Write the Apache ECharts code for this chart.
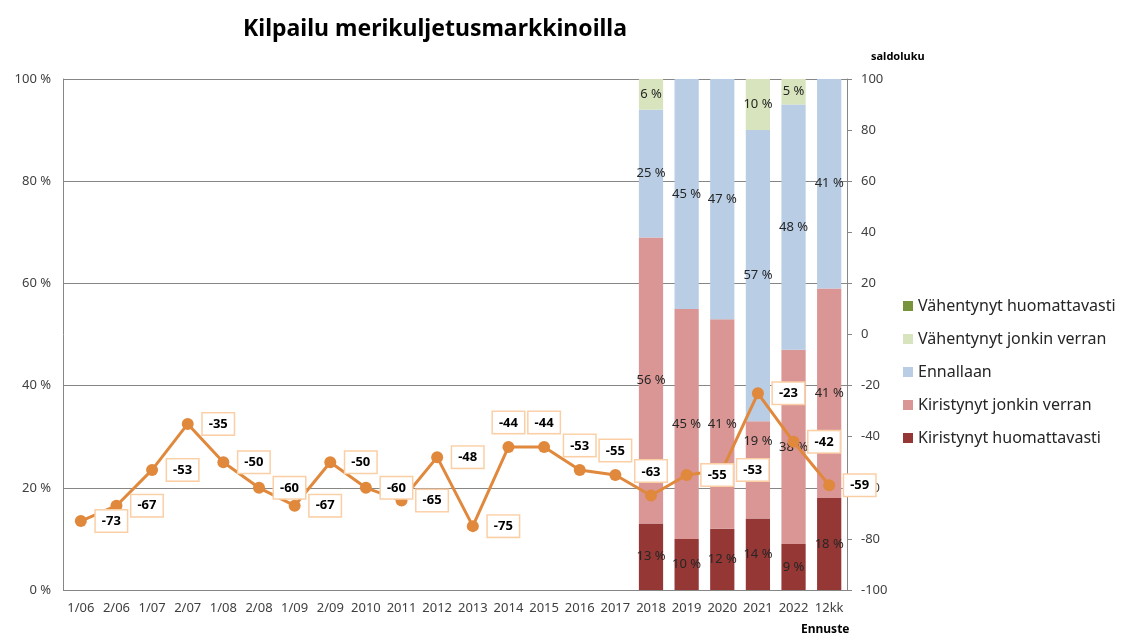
<!DOCTYPE html>
<html>
<head>
<meta charset="utf-8">
<script src="https://cdn.jsdelivr.net/npm/echarts@6/dist/echarts.min.js"></script>
<style>
  html, body { margin: 0; padding: 0; background: #fff; }
  #chart { width: 1124px; height: 639px; }
</style>
</head>
<body>
<div id="chart"></div>
<script>
// categories (half-years, years, forecast)
const categories = ["1/06", "2/06", "1/07", "2/07", "1/08", "2/08", "1/09", "2/09", "2010", "2011",
  "2012", "2013", "2014", "2015", "2016", "2017", "2018", "2019", "2020", "2021", "2022", "12kk"];

// saldoluku (right axis)
const saldo = [-73, -67, -53, -35, -50, -60, -67, -50, -60, -65, -48, -75, -44, -44, -53, -55,
  -63, -55, -53, -23, -42, -59];

// answer shares, % (only 2018 onwards)
const e = null;
const kirHuom = [e, e, e, e, e, e, e, e, e, e, e, e, e, e, e, e, 13, 10, 12, 14, 9, 18];
const kirJonk = [e, e, e, e, e, e, e, e, e, e, e, e, e, e, e, e, 56, 45, 41, 19, 38, 41];
const ennallaan = [e, e, e, e, e, e, e, e, e, e, e, e, e, e, e, e, 25, 45, 47, 57, 48, 41];
const vahJonk = [e, e, e, e, e, e, e, e, e, e, e, e, e, e, e, e, 6, 0, 0, 10, 5, 0];
const vahHuom = [e, e, e, e, e, e, e, e, e, e, e, e, e, e, e, e, 0, 0, 0, 0, 0, 0];

// line labels that sit above the point instead of to the right
const labelsOnTop = ["2014", "2015", "2016", "2017", "2018"];

const FONT = "Noto Sans";
const txt = "#404040";

const chart = echarts.init(document.getElementById("chart"));

function barSeries(name, data, color) {
  return {
    name: name,
    type: "bar",
    stack: "osuus",
    yAxisIndex: 0,
    barWidth: "68%",
    itemStyle: { color: color },
    label: {
      show: true,
      position: "inside",
      color: "#262626",
      fontFamily: FONT,
      fontSize: 13,
      formatter: p => (p.value ? p.value + " %" : "")
    },
    emphasis: { disabled: true },
    z: 6,
    data: data
  };
}

const lineData = saldo.map((v, i) =>
  labelsOnTop.indexOf(categories[i]) >= 0
    ? { value: v, label: { position: "top", distance: 8 } }
    : v
);

// 2021 label of the pink segment is lifted clear of the line label
const kirJonkData = kirJonk.map((v, i) =>
  categories[i] === "2021" ? { value: v, label: { offset: [0, -29] } } : v
);

chart.setOption({
  animation: false,
  textStyle: { fontFamily: FONT },
  title: {
    text: "Kilpailu merikuljetusmarkkinoilla",
    left: 430,
    textAlign: "center",
    top: 13,
    textStyle: { fontFamily: FONT, fontSize: 23, fontWeight: "bold", color: "#000" }
  },
  grid: { left: 63, right: 277, top: 79, bottom: 49 },
  legend: {
    orient: "vertical",
    left: 898,
    top: 293,
    itemWidth: 10,
    itemHeight: 10,
    itemGap: 17,
    icon: "rect",
    textStyle: { fontFamily: FONT, fontSize: 16, color: "#262626" },
    data: ["Vähentynyt huomattavasti", "Vähentynyt jonkin verran", "Ennallaan",
      "Kiristynyt jonkin verran", "Kiristynyt huomattavasti"]
  },
  xAxis: {
    type: "category",
    data: categories,
    axisLine: { show: false },
    axisTick: { show: false },
    axisLabel: { color: txt, fontFamily: FONT, fontSize: 13, margin: 12, interval: 0 }
  },
  yAxis: [
    {
      type: "value",
      min: 0,
      max: 100,
      interval: 20,
      position: "left",
      axisLine: { show: true, lineStyle: { color: "#868686" } },
      axisTick: { show: false },
      splitLine: { lineStyle: { color: "#868686", width: 1 } },
      axisLabel: { color: txt, fontFamily: FONT, fontSize: 13, margin: 12, formatter: "{value} %" }
    },
    {
      type: "value",
      min: -100,
      max: 100,
      interval: 20,
      position: "right",
      name: "saldoluku",
      nameLocation: "end",
      nameGap: 17,
      nameTextStyle: { color: "#000", fontFamily: FONT, fontSize: 11, fontWeight: "bold", align: "left", padding: [0, 0, 0, 24] },
      axisLine: { show: true, lineStyle: { color: "#868686" } },
      axisTick: { show: true, length: 5, lineStyle: { color: "#868686" } },
      splitLine: { show: false },
      axisLabel: { color: txt, fontFamily: FONT, fontSize: 13, margin: 14 }
    }
  ],
  series: [
    barSeries("Kiristynyt huomattavasti", kirHuom, "#953735"),
    barSeries("Kiristynyt jonkin verran", kirJonkData, "#d99694"),
    barSeries("Ennallaan", ennallaan, "#b9cde5"),
    barSeries("Vähentynyt jonkin verran", vahJonk, "#d7e4bd"),
    barSeries("Vähentynyt huomattavasti", vahHuom, "#77933c"),
    {
      name: "Saldoluku",
      type: "line",
      yAxisIndex: 1,
      data: lineData,
      symbol: "circle",
      symbolSize: 12,
      lineStyle: { color: "#e0883c", width: 3 },
      itemStyle: { color: "#e0883c" },
      label: {
        show: true,
        position: "right",
        distance: 9,
        color: "#000",
        fontFamily: FONT,
        fontSize: 13,
        fontWeight: "bold",
        backgroundColor: "#fff",
        borderColor: "#fbcfa6",
        borderWidth: 1.5,
        padding: [5, 6, 3, 6]
      },
      emphasis: { disabled: true },
      z: 8
    }
  ],
  graphic: [
    {
      type: "text",
      left: 801,
      top: 624,
      style: { text: "Ennuste", fontFamily: FONT, fontSize: 12, fontWeight: "bold", fill: "#000" }
    }
  ]
});
</script>
</body>
</html>
